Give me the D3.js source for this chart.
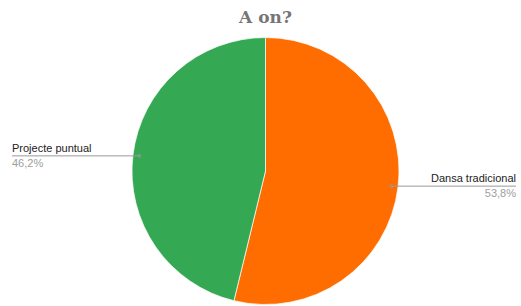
<!DOCTYPE html>
<html><head><meta charset="utf-8">
<script src="https://cdn.jsdelivr.net/npm/d3@7"></script>
<style>body{margin:0;background:#fff}</style>
</head><body>
<svg id="c" width="521" height="306"></svg>
<script>
const categories = ["Dansa tradicional", "Projecte puntual"];
const values = [53.8, 46.2];
const percentLabels = ["53,8%", "46,2%"];
const colors = ["#ff6d01", "#34a853"];

const svg = d3.select("#c");
const W = 521, cx = 265.5, cy = 171, R = 133.5;

svg.append("text").attr("x", cx).attr("y", 23).attr("text-anchor", "middle")
  .attr("font-family", "DejaVu Serif, serif").attr("font-weight", "bold")
  .attr("font-size", 17).attr("fill", "#757575").text("A on?");

const data = categories.map((c, i) => ({cat: c, v: values[i], pct: percentLabels[i], col: colors[i]}));
const pie = d3.pie().value(d => d.v).sort(null);
const arcs = pie(data);
const arc = d3.arc().innerRadius(0).outerRadius(R);
const g = svg.append("g").attr("transform", `translate(${cx},${cy})`);
g.selectAll("path").data(arcs).join("path").attr("d", arc)
  .attr("fill", d => d.data.col).attr("stroke", "#fff").attr("stroke-width", 0.7);

const rDot = 127;
arcs.forEach(a => {
  const m = (a.startAngle + a.endAngle) / 2;
  const px = cx + Math.sin(m) * rDot, py = cy - Math.cos(m) * rDot;
  const right = Math.sin(m) > 0;
  const ex = right ? 516 : 12;
  svg.append("line").attr("x1", px).attr("y1", py).attr("x2", ex).attr("y2", py)
    .attr("stroke", "#999").attr("stroke-width", 1);
  svg.append("circle").attr("cx", px).attr("cy", py).attr("r", 2).attr("fill", "#999").attr("opacity", 0.6);
  const anchor = right ? "end" : "start";
  svg.append("text").attr("x", ex).attr("y", py - 4).attr("text-anchor", anchor)
    .attr("font-family", "Liberation Sans, Arial, sans-serif").attr("font-size", 11)
    .attr("fill", "#222").text(a.data.cat);
  svg.append("text").attr("x", ex).attr("y", py + 11).attr("text-anchor", anchor)
    .attr("font-family", "Liberation Sans, Arial, sans-serif").attr("font-size", 11)
    .attr("fill", "#9e9e9e").text(a.data.pct);
});
</script>
</body></html>
